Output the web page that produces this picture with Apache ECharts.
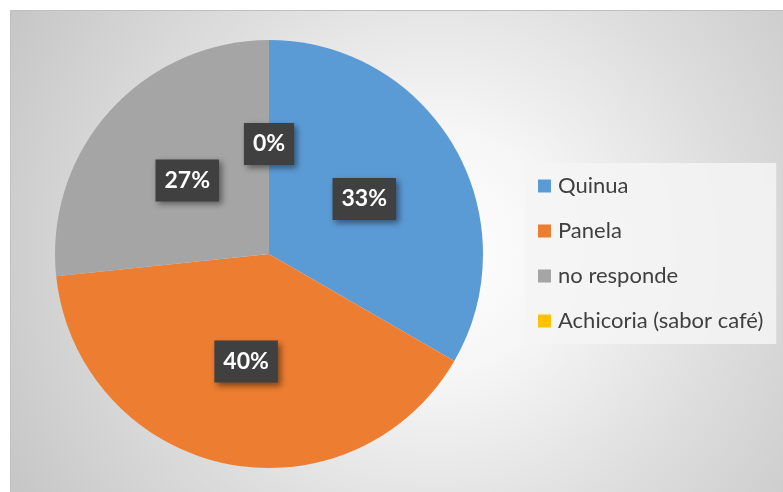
<!DOCTYPE html>
<html>
<head>
<meta charset="utf-8">
<script src="https://cdn.jsdelivr.net/npm/echarts@6/dist/echarts.min.js"></script>
<style>
  html, body { margin: 0; padding: 0; background: #fff; }
  #chart {
    position: absolute; left: 10px; top: 10px; width: 772px; height: 481px;
    border-top: 1px solid #c0c0c0; border-left: 1px solid #c0c0c0;
    background: radial-gradient(circle farthest-corner at 55% 50%, #ffffff 0%, #f6f6f6 25%, #dedede 60%, #c6c6c6 100%);
  }
</style>
</head>
<body>
<div id="chart"></div>
<script>
  var categories = ['Quinua', 'Panela', 'no responde', 'Achicoria (sabor café)'];
  var values = [5, 6, 4, 0];
  var colors = ['#5b9bd5', '#ed7d31', '#a5a5a5', '#ffc000'];

  var myChart = echarts.init(document.getElementById('chart'));
  var option = {
    animation: false,
    color: colors,
    legend: {
      orient: 'vertical',
      left: 514,
      top: 152,
      padding: [12, 13, 12, 13],
      backgroundColor: 'rgba(244,244,244,0.85)',
      itemWidth: 13,
      itemHeight: 13,
      itemGap: 23,
      icon: 'rect',
      textStyle: { fontFamily: 'Lato', fontSize: 22, color: '#404040', padding: [0, 0, 0, 2] },
      data: categories
    },
    series: [
      {
        type: 'pie',
        center: [258, 243],
        radius: 214,
        startAngle: 90,
        percentPrecision: 0,
        avoidLabelOverlap: false,
        emphasis: { disabled: true },
        itemStyle: { borderWidth: 0 },
        label: {
          show: true,
          position: 'inside',
          formatter: '{d}%',
          fontFamily: 'Lato',
          fontWeight: 'bold',
          fontSize: 23,
          color: '#fff',
          backgroundColor: '#404040',
          padding: [11, 9, 8, 9],
          shadowBlur: 6,
          shadowOffsetX: 3,
          shadowOffsetY: 3,
          shadowColor: 'rgba(0,0,0,0.45)'
        },
        labelLine: { show: false },
        data: categories.map(function (c, i) { return { name: c, value: values[i] }; })
      }
    ]
  };
  myChart.setOption(option);
</script>
</body>
</html>
